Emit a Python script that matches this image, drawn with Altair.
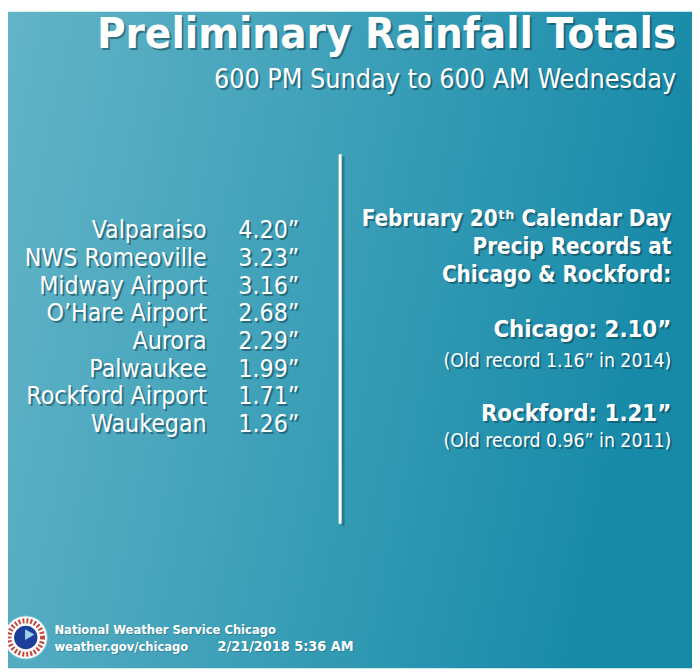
import altair as alt
import pandas as pd

W, H = 692, 664

# ---- data ----
title = "Preliminary Rainfall Totals"
subtitle = "600 PM Sunday to 600 AM Wednesday"
stations = ["Valparaiso", "NWS Romeoville", "Midway Airport", "O\u2019Hare Airport",
            "Aurora", "Palwaukee", "Rockford Airport", "Waukegan"]
totals = [4.20, 3.23, 3.16, 2.68, 2.29, 1.99, 1.71, 1.26]
record_header = ["February 20\u1d57\u02b0 Calendar Day", "Precip Records at", "Chicago & Rockford:"]
record_sites = ["Chicago", "Rockford"]
record_values = [2.10, 1.21]
old_values = [1.16, 0.96]
old_years = [2014, 2011]
footer_lines = ["National Weather Service Chicago", "weather.gov/chicago", "2/21/2018 5:36 AM"]

NARROW = "Liberation Sans Narrow, DejaVu Sans Condensed, Roboto Condensed, Roboto, sans-serif"
SHADOW = "#0f3a48"

df_list = pd.DataFrame({
    "row": list(range(len(stations))),
    "name": stations,
    "val": [f"{v:.2f}\u201d" for v in totals],
})


def text(txt, x, y, size, weight="normal", align="right", font=NARROW, color="white",
         shadow=True, sdx=2, sdy=2, sop=0.5):
    base = alt.Chart(pd.DataFrame({"t": [txt]}))
    out = []
    if shadow:
        out.append(base.mark_text(align=align, baseline="alphabetic", font=font, fontSize=size,
                                  fontWeight=weight, color=SHADOW, opacity=sop, dx=sdx, dy=sdy)
                   .encode(x=alt.value(x), y=alt.value(y), text="t:N"))
    out.append(base.mark_text(align=align, baseline="alphabetic", font=font, fontSize=size,
                              fontWeight=weight, color=color)
               .encode(x=alt.value(x), y=alt.value(y), text="t:N"))
    return out


bg = alt.Chart(pd.DataFrame({"a": [0]})).mark_rect(
    fill=alt.Gradient(gradient="linear",
                      stops=[alt.GradientStop(color="#63b4c7", offset=0),
                             alt.GradientStop(color="#3da0b8", offset=0.5),
                             alt.GradientStop(color="#178aa8", offset=1)],
                      x1=0, x2=1, y1=0, y2=0.2)
).encode(x=alt.value(0), x2=alt.value(W), y=alt.value(0), y2=alt.value(H))

layers = [bg]
layers += text(title, 676, 37, 44, "bold")
layers += text(subtitle, 676, 77, 27, "normal")

yscale = alt.Scale(domain=[0, len(stations) - 1], range=[229, 425])
lst = alt.Chart(df_list)
for col, xpos, al in [("name", 201, "right"), ("val", 233, "left")]:
    layers.append(lst.mark_text(align=al, baseline="alphabetic", font=NARROW, fontSize=25,
                                color=SHADOW, opacity=0.5, dx=2, dy=2)
                  .encode(x=alt.value(xpos), y=alt.Y("row:Q", scale=yscale, axis=None), text=f"{col}:N"))
    layers.append(lst.mark_text(align=al, baseline="alphabetic", font=NARROW, fontSize=25,
                                color="white")
                  .encode(x=alt.value(xpos), y=alt.Y("row:Q", scale=yscale, axis=None), text=f"{col}:N"))

# divider
div = alt.Chart(pd.DataFrame({"a": [0]}))
layers.append(div.mark_rule(color=SHADOW, opacity=0.35, strokeWidth=3)
              .encode(x=alt.value(339), y=alt.value(146), y2=alt.value(520)))
layers.append(div.mark_rule(color="white", strokeWidth=3)
              .encode(x=alt.value(336), y=alt.value(144), y2=alt.value(518)))

# record block
for i, line in enumerate(record_header):
    layers += text(line, 671, 217 + 28 * i, 22.5, "bold")
layers += text(f"{record_sites[0]}: {record_values[0]:.2f}\u201d", 671, 329, 24, "bold")
layers += text(f"(Old record {old_values[0]:.2f}\u201d in {old_years[0]})", 671, 359, 19.5, "normal")
layers += text(f"{record_sites[1]}: {record_values[1]:.2f}\u201d", 671, 414, 24, "bold")
layers += text(f"(Old record {old_values[1]:.2f}\u201d in {old_years[1]})", 671, 440, 19.5, "normal")

# footer
layers += text(footer_lines[0], 47, 629, 13, "bold", align="left", sdx=1, sdy=1, sop=0.3)
layers += text(footer_lines[1], 47, 647, 13, "bold", align="left", sdx=1, sdy=1, sop=0.3)
layers += text(footer_lines[2], 212, 647, 14.5, "bold", align="left", sdx=1, sdy=1, sop=0.3)

# logo
logo = alt.Chart(pd.DataFrame({"a": [0]}))
layers.append(logo.mark_point(shape="circle", filled=True, color="white", size=1900,
                              stroke="#8cc3d6", strokeWidth=1, opacity=1)
              .encode(x=alt.value(18), y=alt.value(633)))
layers.append(logo.mark_point(shape="circle", filled=False, color="#c8453a", size=1150,
                              strokeWidth=5, strokeDash=[2, 2], opacity=1)
              .encode(x=alt.value(18), y=alt.value(633)))
layers.append(logo.mark_point(shape="circle", filled=True, color="#1d3f9a", size=560, opacity=1)
              .encode(x=alt.value(18), y=alt.value(633)))
layers.append(logo.mark_point(shape="triangle-right", filled=True, color="#9fd0ea", size=120, opacity=1)
              .encode(x=alt.value(22), y=alt.value(630)))

chart = alt.layer(*layers).properties(
    width=W, height=H, padding=0, autosize=alt.AutoSizeParams(type="none")
).configure_view(stroke=None)

chart.save("out.html", embed_options={"renderer": "svg", "actions": False})
